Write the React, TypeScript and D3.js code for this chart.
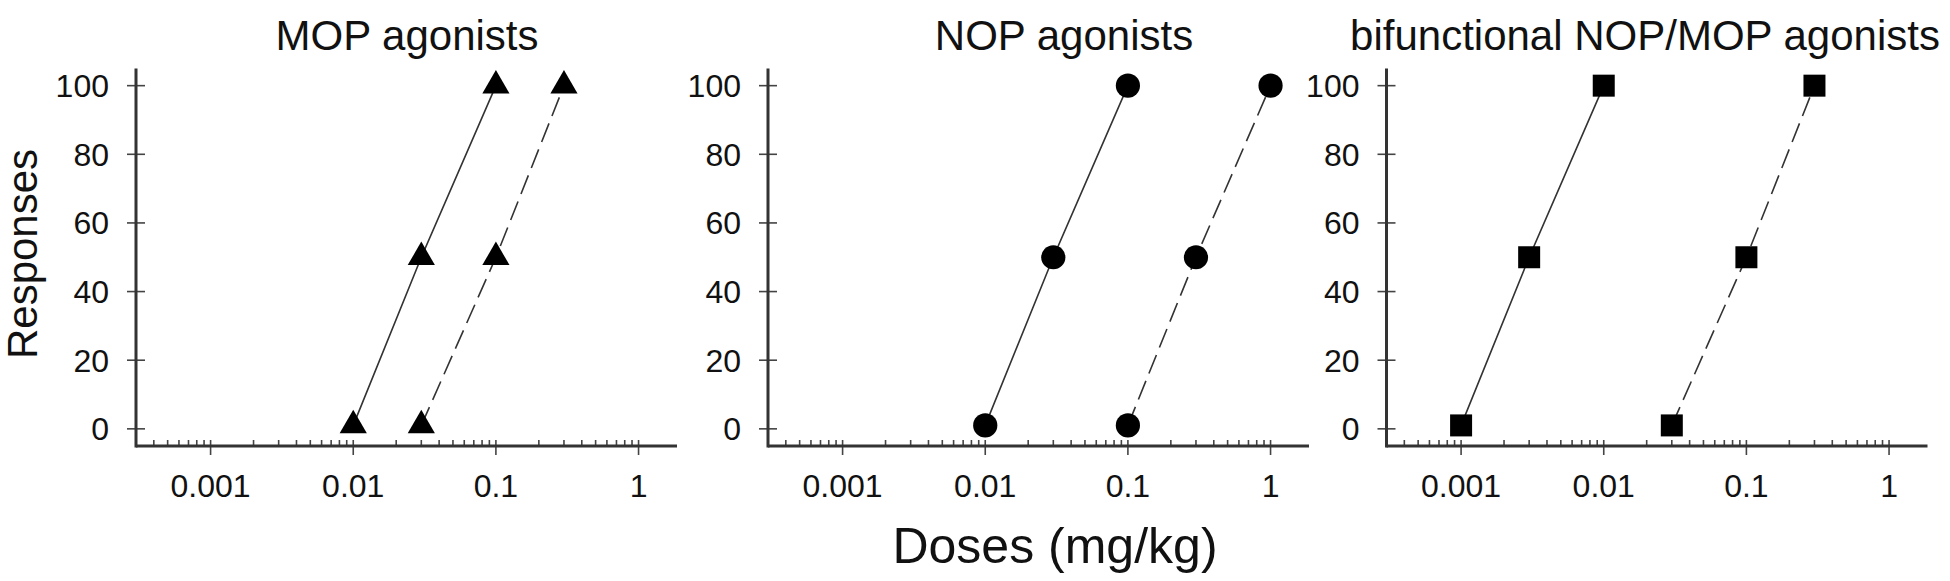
import React from 'react';
import * as d3 from 'd3';

// ---- data ----
const panelTitles = ['MOP agonists', 'NOP agonists', 'bifunctional NOP/MOP agonists'];
const markerShapes = ['triangle', 'circle', 'square'];
const doseTickValues = [0.001, 0.01, 0.1, 1];
const doseTickLabels = ['0.001', '0.01', '0.1', '1'];
const responseTickValues = [0, 20, 40, 60, 80, 100];
const doseDomain = [0.0003, 1.86];
const responseDomain = [-5, 105];

// MOP agonists
const mopSolidDoses = [0.01, 0.03, 0.1];
const mopSolidResponses = [1, 50, 100];
const mopDashedDoses = [0.03, 0.1, 0.3];
const mopDashedResponses = [1, 50, 100];
// NOP agonists
const nopSolidDoses = [0.01, 0.03, 0.1];
const nopSolidResponses = [1, 50, 100];
const nopDashedDoses = [0.1, 0.3, 1];
const nopDashedResponses = [1, 50, 100];
// bifunctional NOP/MOP agonists
const bifSolidDoses = [0.001, 0.003, 0.01];
const bifSolidResponses = [1, 50, 100];
const bifDashedDoses = [0.03, 0.1, 0.3];
const bifDashedResponses = [1, 50, 100];

const xAxisTitle = 'Doses (mg/kg)';
const yAxisTitle = 'Responses';

// ---- layout ----
const W = 1950;
const H = 581;
const panelLeft = [136, 768, 1386.5];
const plotWidth = 541;
const yTopPx = 68.5;
const yBottomPx = 446;
const titleCenters = [407, 1064, 1645];
const FONT = "'Liberation Sans', Arial, Helvetica, sans-serif";

const panels = [
  { solid: [mopSolidDoses, mopSolidResponses], dashed: [mopDashedDoses, mopDashedResponses] },
  { solid: [nopSolidDoses, nopSolidResponses], dashed: [nopDashedDoses, nopDashedResponses] },
  { solid: [bifSolidDoses, bifSolidResponses], dashed: [bifDashedDoses, bifDashedResponses] },
];

function Panel({ idx }: { idx: number }) {
  const x0 = panelLeft[idx];
  const x = d3.scaleLog().domain(doseDomain).range([x0, x0 + plotWidth]);
  const y = d3.scaleLinear().domain(responseDomain).range([yBottomPx, yTopPx]);
  const axisY = yBottomPx;
  const allTicks = x.ticks();
  const line = d3
    .line<[number, number]>()
    .x((d) => x(d[0]))
    .y((d) => y(d[1]));
  const shape = markerShapes[idx];
  const symType =
    shape === 'triangle' ? d3.symbolTriangle : shape === 'circle' ? d3.symbolCircle : d3.symbolSquare;
  const symSize = shape === 'triangle' ? 320 : shape === 'circle' ? 460 : 484;
  const sym = d3.symbol().type(symType).size(symSize);
  const p = panels[idx];
  const toPts = (s: number[][]) => s[0].map((d, i) => [d, s[1][i]] as [number, number]);
  const solidPts = toPts(p.solid);
  const dashedPts = toPts(p.dashed);

  return (
    <g>
      <text
        x={titleCenters[idx]}
        y={50}
        textAnchor="middle"
        fontSize={42}
        fontFamily={FONT}
        fill="#111"
      >
        {panelTitles[idx]}
      </text>
      {/* y ticks */}
      {responseTickValues.map((v) => (
        <g key={'yt' + v}>
          <line x1={x0 - 9} x2={x0 + 9} y1={y(v)} y2={y(v)} stroke="#444" strokeWidth={1.6} />
          <text
            x={x0 - 27}
            y={y(v)}
            dy="0.36em"
            textAnchor="end"
            fontSize={32}
            fontFamily={FONT}
            fill="#111"
          >
            {v}
          </text>
        </g>
      ))}
      {/* x ticks */}
      {allTicks.map((t, i) => {
        const lg = Math.log10(t);
        const major = Math.abs(lg - Math.round(lg)) < 1e-9;
        return (
          <line
            key={'xt' + i}
            x1={x(t)}
            x2={x(t)}
            y1={axisY - 6}
            y2={major ? axisY + 9 : axisY}
            stroke="#444"
            strokeWidth={1.6}
          />
        );
      })}
      {doseTickValues.map((t, i) => (
        <text
          key={'xl' + i}
          x={x(t)}
          y={497}
          textAnchor="middle"
          fontSize={32}
          fontFamily={FONT}
          fill="#111"
        >
          {doseTickLabels[i]}
        </text>
      ))}
      {/* axes */}
      <line x1={x0} x2={x0} y1={yTopPx} y2={axisY + 1.5} stroke="#333" strokeWidth={3} />
      <line x1={x0} x2={x0 + plotWidth} y1={axisY} y2={axisY} stroke="#333" strokeWidth={3} />
      {/* lines */}
      <path d={line(solidPts) || ''} fill="none" stroke="#333" strokeWidth={1.6} />
      <path
        d={line(dashedPts) || ''}
        fill="none"
        stroke="#333"
        strokeWidth={1.6}
        strokeDasharray="20,8"
      />
      {/* markers */}
      {[...solidPts, ...dashedPts].map((d, i) => (
        <path key={'m' + i} d={sym() || ''} transform={`translate(${x(d[0])},${y(d[1])})`} fill="#000" />
      ))}
    </g>
  );
}

export default function App() {
  return (
    <svg
      width={W}
      height={H}
      viewBox={`0 0 ${W} ${H}`}
      style={{ position: 'absolute', left: 0, top: 0, display: 'block', background: '#fff' }}
    >
      <rect x={0} y={0} width={W} height={H} fill="#fff" />
      {[0, 1, 2].map((i) => (
        <Panel key={i} idx={i} />
      ))}
      <text x={1055} y={563} textAnchor="middle" fontSize={50} fontFamily={FONT} fill="#111">
        {xAxisTitle}
      </text>
      <text
        transform={`translate(37,254) rotate(-90)`}
        textAnchor="middle"
        fontSize={42}
        fontFamily={FONT}
        fill="#111"
      >
        {yAxisTitle}
      </text>
    </svg>
  );
}
